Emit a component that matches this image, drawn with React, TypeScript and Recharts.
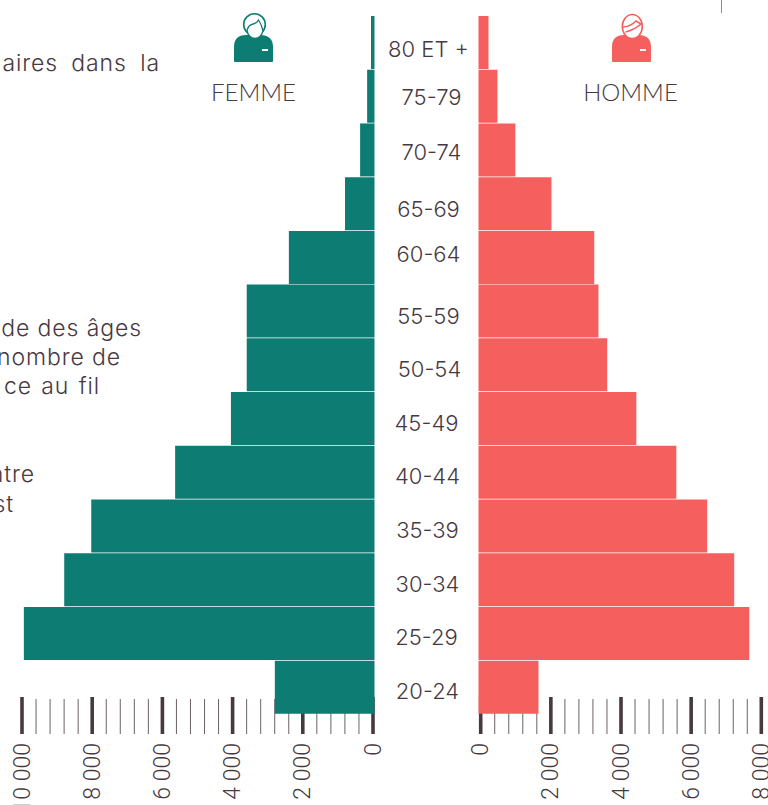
import { BarChart, Bar, XAxis, YAxis } from 'recharts';

const ageGroups = ['80 ET +', '75-79', '70-74', '65-69', '60-64', '55-59', '50-54', '45-49', '40-44', '35-39', '30-34', '25-29', '20-24'];
const femmes = [100, 210, 410, 840, 2440, 3640, 3640, 4090, 5680, 8070, 8840, 9990, 2840];
const hommes = [285, 540, 1050, 2080, 3300, 3420, 3670, 4500, 5640, 6520, 7290, 7720, 1710];

const femmeTicks = [0, 400, 800, 1200, 1600, 2000, 2400, 2800, 3200, 3600, 4000, 4400, 4800, 5200, 5600, 6000, 6400, 6800, 7200, 7600, 8000, 8400, 8800, 9200, 9600, 10000];
const hommeTicks = [0, 400, 800, 1200, 1600, 2000, 2400, 2800, 3200, 3600, 4000, 4400, 4800, 5200, 5600, 6000, 6400, 6800, 7200, 7600, 8000];

// the age labels in the reference don't sit exactly on the row centres
const labelNudge: Record<string, [number, number]> = {
  '80 ET +': [0, 7],
  '75-79': [3, 1],
  '70-74': [3, 2],
  '65-69': [0, 5],
  '60-64': [0, -3],
  '55-59': [0, 5],
  '50-54': [1, 4],
  '45-49': [-2, 4],
  '40-44': [-1, 4],
  '35-39': [-1, 4],
  '30-34': [-1, 4],
  '25-29': [-2, 4],
  '20-24': [-1, 4],
};

const GREEN = '#0d7d74';
const RED = '#f55f5d';
const INK = '#47393f';

const rows = ageGroups.map((age, i) => ({ age, femme: femmes[i], homme: hommes[i] }));

function formatTick(v: number) {
  return v.toLocaleString('fr-FR').replace(/\s/g, ' ');
}

function ScaleTick({ x, y, payload, shift }: any) {
  const major = payload.value % 2000 === 0;
  const px = x + shift;
  return (
    <g>
      <line
        x1={px}
        x2={px}
        y1={y - (major ? 25 : 23)}
        y2={y + 12}
        stroke={INK}
        strokeWidth={major ? 3.6 : 1}
        strokeOpacity={major ? 1 : 0.8}
      />
      {major && (
        <text
          transform={`translate(${px},${y + 21}) rotate(-90)`}
          textAnchor="end"
          dominantBaseline="central"
          fontFamily="Roboto, 'Liberation Sans', sans-serif"
          fontWeight={300}
          fontSize={23}
          fill={INK}
        >
          {formatTick(payload.value)}
        </text>
      )}
    </g>
  );
}

function AgeTick({ x, y, payload }: any) {
  const [dx, dy] = labelNudge[payload.value] || [0, 0];
  return (
    <text
      x={x - 42 + dx}
      y={y + dy}
      textAnchor="middle"
      dominantBaseline="central"
      fontFamily="Inter, sans-serif"
      fontWeight={300}
      fontSize={22}
      fill={INK}
    >
      {payload.value}
    </text>
  );
}

function PersonIcon({ left, color, female }: { left: number; color: string; female?: boolean }) {
  return (
    <svg width={42} height={52} viewBox="0 -2 42 52" style={{ position: 'absolute', left, top: 12 }}>
      <path d="M1 47 V33 Q1 21 13 21 H27 Q40 21 40 33 V47 Q40 48 39 48 H2 Q1 48 1 47 Z" fill={color} />
      {female ? (
        <>
          <circle cx={21.5} cy={10.5} r={10.8} fill="#fff" stroke={color} strokeWidth={1.6} />
          <path d="M14 17 Q15 11 20 10 Q24 9 25.5 6 Q29 11 30 17 Q28 24 22 24.5 Q16 24 14 17Z" fill="#fff" stroke={color} strokeWidth={1.3} />
        </>
      ) : (
        <>
          <ellipse cx={21.3} cy={12.5} rx={10} ry={12} fill="#fff" stroke={color} strokeWidth={1.6} />
          <path d="M11.5 13 Q19 13 25 7 L30 10 Q23 16 14.5 18" fill="none" stroke={color} strokeWidth={1.6} />
        </>
      )}
      <rect x={29} y={35} width={6} height={2} fill="#fff" />
    </svg>
  );
}

const bodyText = {
  position: 'absolute',
  fontFamily: 'Inter, sans-serif',
  fontWeight: 300,
  fontSize: 23,
  letterSpacing: 0.9,
  color: INK,
  whiteSpace: 'nowrap',
  lineHeight: '29px',
} as const;

function Fragment({ right, top, children, spacing }: any) {
  return (
    <div style={{ ...bodyText, right: 768 - right, top, wordSpacing: spacing }}>{children}</div>
  );
}

const femmeMargin = { top: 15.6, right: 25.5, bottom: 0, left: 23.5 };
const hommeMargin = { top: 15.6, right: 8.9, bottom: 0, left: 100.5 };

export default function App() {
  return (
    <div style={{ position: 'absolute', left: 0, top: 0, width: 768, height: 805, overflow: 'hidden', background: '#fff' }}>
      <Fragment right={160} top={49} spacing={6}>aires dans la</Fragment>
      <Fragment right={142} top={314}>de des âges</Fragment>
      <Fragment right={121} top={343}>nombre de</Fragment>
      <Fragment right={100} top={372} spacing={2}>ce au fil</Fragment>
      <Fragment right={35} top={460}>ntre</Fragment>
      <Fragment right={14} top={490}>st</Fragment>

      <PersonIcon left={233} color={GREEN} female />
      <PersonIcon left={611} color={RED} />
      <div style={{ position: 'absolute', left: 200, top: 77, width: 107, textAlign: 'center', fontFamily: 'Lato, sans-serif', fontWeight: 300, fontSize: 24, color: INK }}>FEMME</div>
      <div style={{ position: 'absolute', left: 577, top: 77, width: 107, textAlign: 'center', fontFamily: 'Lato, sans-serif', fontWeight: 300, fontSize: 24, color: INK }}>HOMME</div>
      <div style={{ position: 'absolute', left: 721, top: 0, width: 1, height: 13, background: RED }} />

      {/* scales sit in their own charts so the bars paint over the tick marks */}
      <div style={{ position: 'absolute', left: 0, top: 0 }}>
        <BarChart width={400} height={805} data={rows} layout="vertical" margin={femmeMargin}>
          <XAxis type="number" domain={[0, 10000]} reversed ticks={femmeTicks} interval={0} height={91} axisLine={false} tickLine={false} tick={<ScaleTick shift={-1.5} />} />
          <YAxis type="category" dataKey="age" hide />
          <Bar dataKey="femme" fill="none" isAnimationActive={false} />
        </BarChart>
      </div>
      <div style={{ position: 'absolute', left: 378, top: 0 }}>
        <BarChart width={390} height={805} data={rows} layout="vertical" margin={hommeMargin}>
          <XAxis type="number" domain={[0, 8000]} ticks={hommeTicks} interval={0} height={91} axisLine={false} tickLine={false} tick={<ScaleTick shift={2.2} />} />
          <YAxis type="category" dataKey="age" hide />
          <Bar dataKey="homme" fill="none" isAnimationActive={false} />
        </BarChart>
      </div>

      <div style={{ position: 'absolute', left: 0, top: 0 }}>
        <BarChart width={400} height={805} data={rows} layout="vertical" barCategoryGap={0.4} margin={{ ...femmeMargin, bottom: 91 }}>
          <XAxis type="number" domain={[0, 10000]} reversed hide />
          <YAxis type="category" dataKey="age" hide />
          <Bar dataKey="femme" fill={GREEN} isAnimationActive={false} />
        </BarChart>
      </div>
      <div style={{ position: 'absolute', left: 378, top: 0 }}>
        <BarChart width={390} height={805} data={rows} layout="vertical" barCategoryGap={0.4} margin={{ ...hommeMargin, left: 0, bottom: 91 }}>
          <XAxis type="number" domain={[0, 8000]} hide />
          <YAxis type="category" dataKey="age" width={100.5} axisLine={false} tickLine={false} interval={0} tick={<AgeTick />} />
          <Bar dataKey="homme" fill={RED} isAnimationActive={false} />
        </BarChart>
      </div>
    </div>
  );
}
